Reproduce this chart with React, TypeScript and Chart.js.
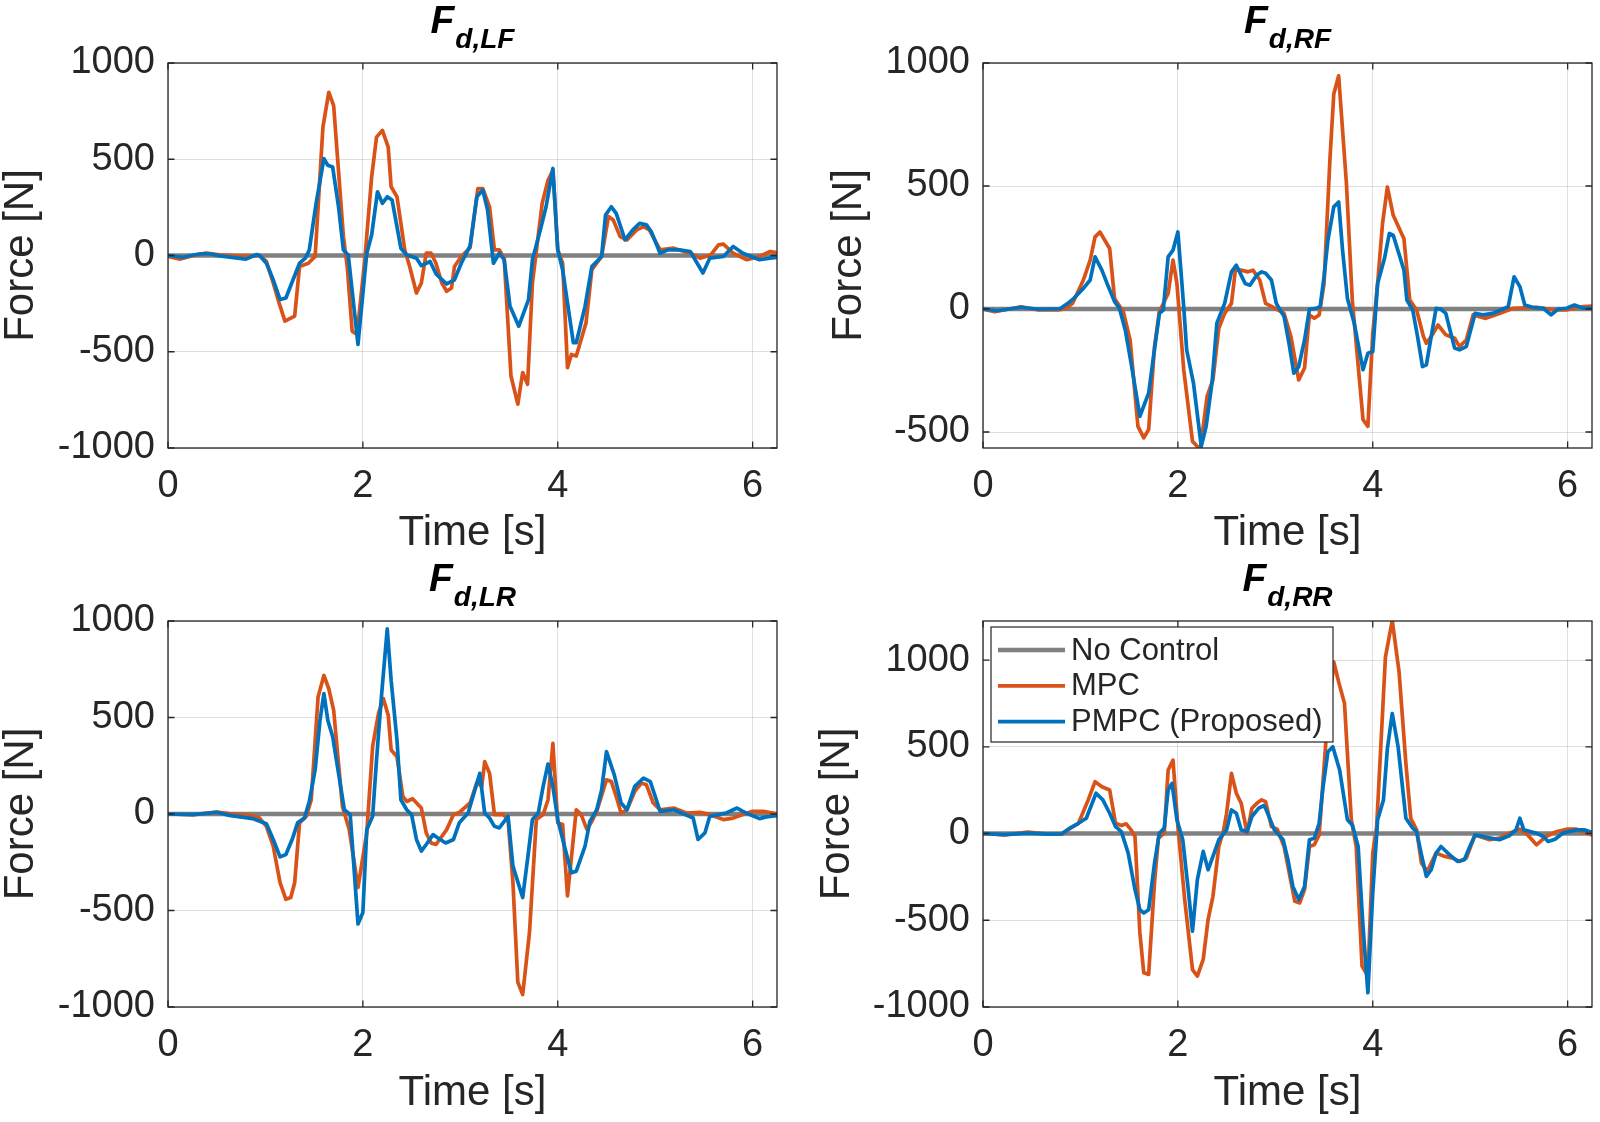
import React, { useEffect, useRef } from 'react';
import { Chart, registerables } from 'chart.js';

Chart.register(...registerables);

const FONT = "'Liberation Sans', Arial, Helvetica, sans-serif";
const TEXT = '#262626';
const C_NONE = '#808080';
const C_MPC = '#D95319';
const C_PMPC = '#0072BD';

const seriesLabels = ['No Control', 'MPC', 'PMPC (Proposed)'];
const xTicks = [0, 2, 4, 6];
const xMax = 6.25;
const yTicksFull = [-1000, -500, 0, 500, 1000];
const yTicksRF = [-500, 0, 500, 1000];

// [time s, force N]
const noControl = [[0, 0], [6.25, 0]];

const lfMpc = [[0,-5],[0.12,-19],[0.26,0],[0.39,12],[0.53,3],[0.8,-5],[0.94,0],[1.01,-31],[1.08,-143],[1.14,-246],[1.2,-341],[1.3,-315],[1.35,-57],[1.44,-40],[1.51,-5],[1.59,667],[1.65,848],[1.7,779],[1.8,100],[1.84,-60],[1.89,-393],[1.94,-410],[2.02,-20],[2.09,408],[2.14,615],[2.2,650],[2.26,563],[2.29,357],[2.35,305],[2.43,29],[2.48,-57],[2.55,-195],[2.6,-143],[2.65,12],[2.7,12],[2.75,-40],[2.81,-143],[2.86,-186],[2.91,-169],[2.94,-57],[3.01,-5],[3.1,40],[3.18,348],[3.23,348],[3.3,253],[3.35,29],[3.4,29],[3.45,-14],[3.52,-626],[3.59,-772],[3.64,-608],[3.69,-669],[3.74,-143],[3.84,270],[3.9,391],[3.95,443],[4.0,29],[4.05,-40],[4.1,-583],[4.14,-514],[4.19,-522],[4.29,-350],[4.35,-74],[4.45,-5],[4.52,202],[4.57,184],[4.64,98],[4.71,81],[4.81,133],[4.88,150],[4.94,133],[5.05,29],[5.19,38],[5.36,12],[5.46,-14],[5.57,3],[5.65,55],[5.7,59],[5.8,12],[5.94,-22],[6.07,-5],[6.18,21],[6.25,15]];
const lfPmpc = [[0,0],[0.15,-9],[0.33,9],[0.43,9],[0.53,-2],[0.8,-19],[0.91,5],[0.94,0],[1.01,-40],[1.08,-126],[1.15,-229],[1.21,-221],[1.27,-143],[1.35,-40],[1.41,-14],[1.45,29],[1.52,271],[1.6,503],[1.64,469],[1.69,460],[1.75,253],[1.8,29],[1.85,3],[1.95,-462],[2.04,12],[2.09,107],[2.15,331],[2.2,271],[2.25,305],[2.3,288],[2.39,38],[2.45,3],[2.55,-14],[2.6,-53],[2.69,-31],[2.75,-95],[2.86,-148],[2.94,-126],[3.01,-40],[3.1,50],[3.17,305],[3.23,340],[3.28,236],[3.34,-40],[3.4,12],[3.45,-22],[3.51,-264],[3.6,-367],[3.7,-229],[3.74,-22],[3.83,150],[3.88,253],[3.95,452],[4.0,29],[4.05,-74],[4.16,-453],[4.19,-453],[4.28,-264],[4.35,-57],[4.45,-5],[4.49,210],[4.55,253],[4.6,219],[4.69,81],[4.77,133],[4.84,167],[4.91,159],[4.96,124],[5.05,12],[5.13,29],[5.25,29],[5.36,21],[5.41,-22],[5.49,-91],[5.56,-14],[5.7,-5],[5.8,47],[5.9,12],[6.07,-22],[6.18,-14],[6.25,-10]];

const rfMpc = [[0,0],[0.12,-11],[0.39,9],[0.57,-4],[0.77,-4],[0.84,0],[0.92,23],[1.03,118],[1.1,199],[1.15,293],[1.2,313],[1.3,246],[1.35,43],[1.44,-11],[1.51,-126],[1.59,-477],[1.65,-524],[1.7,-490],[1.76,-153],[1.81,-11],[1.9,63],[1.95,199],[1.99,104],[2.06,-247],[2.15,-538],[2.23,-571],[2.3,-355],[2.36,-288],[2.42,-78],[2.48,-18],[2.55,23],[2.59,158],[2.65,158],[2.72,151],[2.77,158],[2.84,118],[2.9,23],[2.97,9],[3.09,-18],[3.16,-112],[3.24,-288],[3.3,-240],[3.35,-24],[3.4,-38],[3.45,-24],[3.5,104],[3.56,604],[3.6,874],[3.65,948],[3.73,509],[3.79,36],[3.9,-450],[3.95,-477],[4.0,-99],[4.05,104],[4.1,347],[4.15,496],[4.21,381],[4.32,286],[4.38,36],[4.45,-4],[4.52,-112],[4.55,-139],[4.6,-112],[4.67,-65],[4.75,-105],[4.84,-119],[4.89,-153],[4.96,-126],[5.03,-24],[5.16,-38],[5.3,-18],[5.44,3],[5.68,7],[5.75,3],[5.85,-4],[5.99,-4],[6.12,9],[6.25,12]];
const rfPmpc = [[0,0],[0.15,-7],[0.39,7],[0.57,-1],[0.79,1],[0.86,20],[0.92,39],[1.03,84],[1.1,118],[1.15,212],[1.22,158],[1.28,97],[1.35,30],[1.4,3],[1.46,-85],[1.52,-220],[1.61,-436],[1.7,-342],[1.75,-193],[1.81,-18],[1.85,-4],[1.9,212],[1.95,239],[2.0,313],[2.06,9],[2.09,-166],[2.16,-301],[2.24,-558],[2.29,-477],[2.35,-301],[2.4,-58],[2.48,23],[2.55,151],[2.6,178],[2.69,104],[2.74,97],[2.81,138],[2.86,151],[2.9,145],[2.96,118],[3.01,23],[3.09,-31],[3.14,-139],[3.19,-261],[3.24,-234],[3.3,-126],[3.35,-1],[3.42,3],[3.46,9],[3.5,131],[3.54,280],[3.6,415],[3.65,435],[3.69,239],[3.74,43],[3.81,-58],[3.9,-247],[3.95,-180],[4.0,-173],[4.05,104],[4.12,205],[4.17,307],[4.21,300],[4.32,158],[4.35,36],[4.41,-4],[4.46,-112],[4.51,-234],[4.55,-227],[4.65,3],[4.7,-1],[4.75,-18],[4.84,-159],[4.89,-166],[4.96,-153],[5.05,-18],[5.13,-24],[5.23,-18],[5.39,9],[5.45,131],[5.51,91],[5.56,16],[5.64,7],[5.75,3],[5.83,-24],[5.9,-1],[5.99,3],[6.07,16],[6.16,3],[6.25,3]];

const lrMpc = [[0,0],[0.26,-3],[0.5,10],[0.63,2],[0.87,-9],[0.94,-21],[1.01,-64],[1.08,-167],[1.15,-356],[1.21,-442],[1.26,-433],[1.3,-356],[1.35,-46],[1.42,-12],[1.47,74],[1.54,606],[1.6,718],[1.65,649],[1.7,538],[1.79,40],[1.86,-81],[1.95,-381],[2.04,-98],[2.1,349],[2.16,521],[2.21,598],[2.26,512],[2.29,332],[2.35,297],[2.41,91],[2.45,65],[2.51,79],[2.6,31],[2.65,-98],[2.7,-150],[2.75,-158],[2.86,-81],[2.93,-3],[2.99,8],[3.1,57],[3.17,163],[3.22,143],[3.25,271],[3.3,211],[3.35,-3],[3.44,-3],[3.49,-29],[3.54,-356],[3.59,-871],[3.64,-936],[3.71,-613],[3.78,-29],[3.85,-3],[3.9,74],[3.95,366],[4.0,-46],[4.05,-55],[4.1,-424],[4.19,22],[4.24,-3],[4.3,-81],[4.35,-38],[4.4,14],[4.5,177],[4.55,168],[4.6,91],[4.65,5],[4.71,22],[4.79,117],[4.86,160],[4.91,151],[4.98,57],[5.05,22],[5.19,31],[5.32,5],[5.46,9],[5.56,-3],[5.7,-29],[5.8,-21],[5.9,-3],[6.0,14],[6.11,14],[6.25,0]];
const lrPmpc = [[0,0],[0.26,-3],[0.5,9],[0.63,-7],[0.87,-24],[0.94,-38],[1.01,-50],[1.08,-132],[1.15,-222],[1.21,-210],[1.28,-124],[1.33,-46],[1.4,-21],[1.45,65],[1.51,228],[1.56,486],[1.6,624],[1.64,486],[1.69,400],[1.75,211],[1.81,22],[1.87,-3],[1.95,-570],[2.0,-510],[2.04,-81],[2.1,-12],[2.14,280],[2.19,606],[2.25,959],[2.29,692],[2.35,383],[2.39,74],[2.45,22],[2.5,-3],[2.55,-132],[2.6,-192],[2.65,-158],[2.72,-107],[2.77,-124],[2.85,-150],[2.93,-132],[2.99,-45],[3.08,5],[3.13,91],[3.2,211],[3.25,5],[3.3,-21],[3.35,-64],[3.4,-72],[3.49,-12],[3.54,-270],[3.64,-433],[3.69,-235],[3.74,-29],[3.8,5],[3.85,143],[3.9,259],[3.95,143],[4.0,-29],[4.06,-150],[4.14,-304],[4.19,-296],[4.28,-167],[4.33,-38],[4.4,22],[4.45,125],[4.5,323],[4.58,203],[4.65,57],[4.71,22],[4.79,143],[4.88,186],[4.95,168],[5.05,14],[5.19,22],[5.27,5],[5.39,-21],[5.44,-132],[5.51,-98],[5.56,-12],[5.73,5],[5.84,31],[5.9,14],[5.97,-3],[6.07,-24],[6.14,-15],[6.25,-9]];

const rrMpc = [[0,0],[0.22,-8],[0.46,8],[0.67,-4],[0.81,-2],[0.87,21],[0.98,59],[1.08,194],[1.15,299],[1.22,270],[1.3,251],[1.36,59],[1.42,46],[1.47,56],[1.52,21],[1.56,-17],[1.61,-573],[1.65,-803],[1.7,-812],[1.76,-285],[1.8,-27],[1.86,2],[1.9,366],[1.95,423],[2.0,40],[2.07,-381],[2.15,-784],[2.2,-822],[2.26,-726],[2.31,-496],[2.36,-362],[2.42,-75],[2.47,21],[2.5,117],[2.55,347],[2.6,232],[2.65,174],[2.71,2],[2.76,146],[2.81,174],[2.86,194],[2.9,184],[2.96,40],[3.02,25],[3.09,-75],[3.16,-276],[3.2,-391],[3.25,-400],[3.3,-324],[3.35,-75],[3.4,-65],[3.45,-8],[3.52,538],[3.6,989],[3.65,874],[3.71,749],[3.78,79],[3.83,-75],[3.89,-764],[3.95,-822],[4.0,-113],[4.04,40],[4.13,1017],[4.2,1228],[4.27,931],[4.34,404],[4.39,88],[4.45,21],[4.5,-171],[4.56,-218],[4.65,-113],[4.74,-132],[4.82,-142],[4.89,-161],[4.96,-142],[5.05,-8],[5.2,-36],[5.3,-27],[5.4,2],[5.51,25],[5.59,-8],[5.68,-65],[5.78,-17],[5.89,12],[5.99,25],[6.09,25],[6.25,-8]];
const rrPmpc = [[0,0],[0.22,-6],[0.46,2],[0.67,-4],[0.81,-2],[0.89,31],[0.98,59],[1.06,88],[1.16,232],[1.23,194],[1.3,117],[1.36,40],[1.42,11],[1.49,-113],[1.56,-324],[1.61,-439],[1.65,-458],[1.7,-439],[1.76,-171],[1.81,2],[1.86,31],[1.9,251],[1.94,289],[1.99,79],[2.05,-36],[2.11,-343],[2.15,-563],[2.2,-266],[2.26,-103],[2.31,-209],[2.36,-132],[2.42,-36],[2.5,21],[2.55,136],[2.6,117],[2.65,21],[2.71,11],[2.76,98],[2.83,146],[2.88,160],[2.9,146],[2.99,21],[3.08,-36],[3.13,-151],[3.18,-305],[3.24,-381],[3.3,-305],[3.35,-36],[3.4,-27],[3.45,59],[3.49,270],[3.54,471],[3.59,500],[3.66,366],[3.74,79],[3.79,50],[3.85,-75],[3.9,-535],[3.95,-918],[4.0,-343],[4.05,79],[4.11,194],[4.15,490],[4.2,692],[4.26,500],[4.34,88],[4.41,31],[4.45,11],[4.5,-123],[4.55,-247],[4.6,-209],[4.65,-113],[4.7,-75],[4.79,-123],[4.87,-161],[4.94,-151],[4.99,-84],[5.05,-8],[5.16,-21],[5.3,-36],[5.4,-13],[5.47,21],[5.51,88],[5.55,21],[5.68,2],[5.75,-17],[5.8,-46],[5.87,-33],[5.95,2],[6.09,21],[6.17,21],[6.25,6]];

const panels = [
  { id: 'LF', sub: 'd,LF', mpc: lfMpc, pmpc: lfPmpc, yMin: -1000, yMax: 1000, yTicks: yTicksFull, left: 0, top: 0, padTop: 63, padRight: 23, yW: 168, xH: 113, yTitlePad: 0, xTitlePad: 7, legend: false },
  { id: 'RF', sub: 'd,RF', mpc: rfMpc, pmpc: rfPmpc, yMin: -565, yMax: 1000, yTicks: yTicksRF, left: 800, top: 0, padTop: 63, padRight: 8, yW: 183, xH: 113, yTitlePad: 28, xTitlePad: 7, legend: false },
  { id: 'LR', sub: 'd,LR', mpc: lrMpc, pmpc: lrPmpc, yMin: -1000, yMax: 1000, yTicks: yTicksFull, left: 0, top: 561, padTop: 60, padRight: 23, yW: 168, xH: 115, yTitlePad: 0, xTitlePad: 8, legend: false },
  { id: 'RR', sub: 'd,RR', mpc: rrMpc, pmpc: rrPmpc, yMin: -1000, yMax: 1225, yTicks: yTicksFull, left: 800, top: 561, padTop: 60, padRight: 8, yW: 183, xH: 115, yTitlePad: 16, xTitlePad: 8, legend: true },
];

const toXY = (arr: number[][]) => arr.map(([x, y]) => ({ x, y }));

function buildConfig(p: any): any {
  const colors = [C_NONE, C_MPC, C_PMPC];
  const widths = [4.4, 3.7, 3.7];

  const framePlugin = {
    id: 'frame' + p.id,
    afterDatasetsDraw(chart: any) {
      const { ctx, chartArea: a, scales } = chart;
      ctx.save();
      ctx.strokeStyle = TEXT;
      ctx.lineWidth = 1.3;
      ctx.strokeRect(a.left, a.top, a.right - a.left, a.bottom - a.top);
      const L = 6.5;
      ctx.beginPath();
      scales.x.ticks.forEach((t: any) => {
        const px = scales.x.getPixelForValue(t.value);
        ctx.moveTo(px, a.bottom); ctx.lineTo(px, a.bottom - L);
        ctx.moveTo(px, a.top); ctx.lineTo(px, a.top + L);
      });
      scales.y.ticks.forEach((t: any) => {
        const py = scales.y.getPixelForValue(t.value);
        ctx.moveTo(a.left, py); ctx.lineTo(a.left + L, py);
        ctx.moveTo(a.right, py); ctx.lineTo(a.right - L, py);
      });
      ctx.stroke();
      ctx.restore();
    },
  };

  const titlePlugin = {
    id: 'ptitle' + p.id,
    afterDraw(chart: any) {
      const { ctx, chartArea: a } = chart;
      ctx.save();
      ctx.fillStyle = '#000';
      ctx.textAlign = 'left';
      ctx.textBaseline = 'alphabetic';
      const fMain = `italic bold 39px ${FONT}`;
      const fSub = `italic bold 28px ${FONT}`;
      ctx.font = fMain;
      const wF = ctx.measureText('F').width;
      ctx.font = fSub;
      const wS = ctx.measureText(p.sub).width;
      const x0 = (a.left + a.right) / 2 - (wF + wS + 1) / 2;
      ctx.font = fMain;
      ctx.fillText('F', x0, a.top - 30);
      ctx.font = fSub;
      ctx.fillText(p.sub, x0 + wF + 1, a.top - 15);
      ctx.restore();
    },
  };

  const legendPlugin = {
    id: 'plegend' + p.id,
    afterDraw(chart: any) {
      if (!p.legend) return;
      const { ctx, chartArea: a } = chart;
      const bx = a.left + 8, by = a.top + 6, bw = 342, bh = 115;
      ctx.save();
      ctx.fillStyle = '#fff';
      ctx.fillRect(bx, by, bw, bh);
      ctx.strokeStyle = TEXT;
      ctx.lineWidth = 1.2;
      ctx.strokeRect(bx, by, bw, bh);
      ctx.font = `31px ${FONT}`;
      ctx.textBaseline = 'middle';
      ctx.textAlign = 'left';
      chart.data.datasets.forEach((ds: any, i: number) => {
        const cy = by + 23 + i * 35.8;
        ctx.strokeStyle = ds.borderColor;
        ctx.lineWidth = ds.borderWidth;
        ctx.beginPath();
        ctx.moveTo(bx + 7, cy);
        ctx.lineTo(bx + 74, cy);
        ctx.stroke();
        ctx.fillStyle = TEXT;
        ctx.fillText(ds.label, bx + 80, cy + 1);
      });
      ctx.restore();
    },
  };

  const series = [noControl, p.mpc, p.pmpc];
  const grid = { color: 'rgba(38,38,38,0.15)', lineWidth: 1, drawTicks: false };

  return {
    type: 'line',
    data: {
      datasets: series.map((s, i) => ({
        label: seriesLabels[i],
        data: toXY(s),
        borderColor: colors[i],
        backgroundColor: colors[i],
        borderWidth: widths[i],
        order: 3 - i,
        pointRadius: 0,
        tension: 0,
        fill: false,
      })),
    },
    options: {
      animation: false,
      responsive: false,
      events: [],
      layout: { padding: { top: p.padTop, right: p.padRight, left: 0, bottom: 0 } },
      elements: { point: { radius: 0 }, line: { borderJoinStyle: 'round', borderCapStyle: 'round' } },
      plugins: { legend: { display: false }, tooltip: { enabled: false }, title: { display: false } },
      scales: {
        x: {
          type: 'linear',
          min: 0,
          max: xMax,
          afterBuildTicks: (s: any) => { s.ticks = xTicks.map((v) => ({ value: v })); },
          afterFit: (s: any) => { s.height = p.xH; },
          grid,
          border: { display: false },
          ticks: {
            color: TEXT,
            font: { family: FONT, size: 38, lineHeight: 1.2 },
            padding: 16,
            maxRotation: 0,
            autoSkip: false,
            callback: (v: any) => String(v),
          },
          title: {
            display: true,
            text: 'Time [s]',
            color: TEXT,
            font: { family: FONT, size: 42, lineHeight: 1 },
            padding: { top: 0, bottom: p.xTitlePad },
          },
        },
        y: {
          type: 'linear',
          min: p.yMin,
          max: p.yMax,
          afterBuildTicks: (s: any) => { s.ticks = p.yTicks.map((v: number) => ({ value: v })); },
          afterFit: (s: any) => { s.width = p.yW; },
          grid,
          border: { display: false },
          ticks: {
            color: TEXT,
            font: { family: FONT, size: 38, lineHeight: 1.2 },
            padding: 13,
            autoSkip: false,
            callback: (v: any) => String(v),
          },
          title: {
            display: true,
            text: 'Force [N]',
            color: TEXT,
            font: { family: FONT, size: 42, lineHeight: 1 },
            padding: { top: p.yTitlePad, bottom: 0 },
          },
        },
      },
    },
    plugins: [framePlugin, titlePlugin, legendPlugin],
  };
}

function Panel({ p }: { p: any }) {
  const ref = useRef<HTMLCanvasElement>(null);
  useEffect(() => {
    if (!ref.current) return;
    const chart = new Chart(ref.current, buildConfig(p));
    return () => chart.destroy();
  }, [p]);
  return (
    <canvas
      ref={ref}
      width={800}
      height={561}
      style={{ position: 'absolute', left: p.left, top: p.top, width: 800, height: 561 }}
    />
  );
}

export default function App() {
  return (
    <div style={{ position: 'absolute', left: 0, top: 0, width: 1600, height: 1122, background: '#fff', overflow: 'hidden' }}>
      {panels.map((p) => (
        <Panel key={p.id} p={p} />
      ))}
    </div>
  );
}
